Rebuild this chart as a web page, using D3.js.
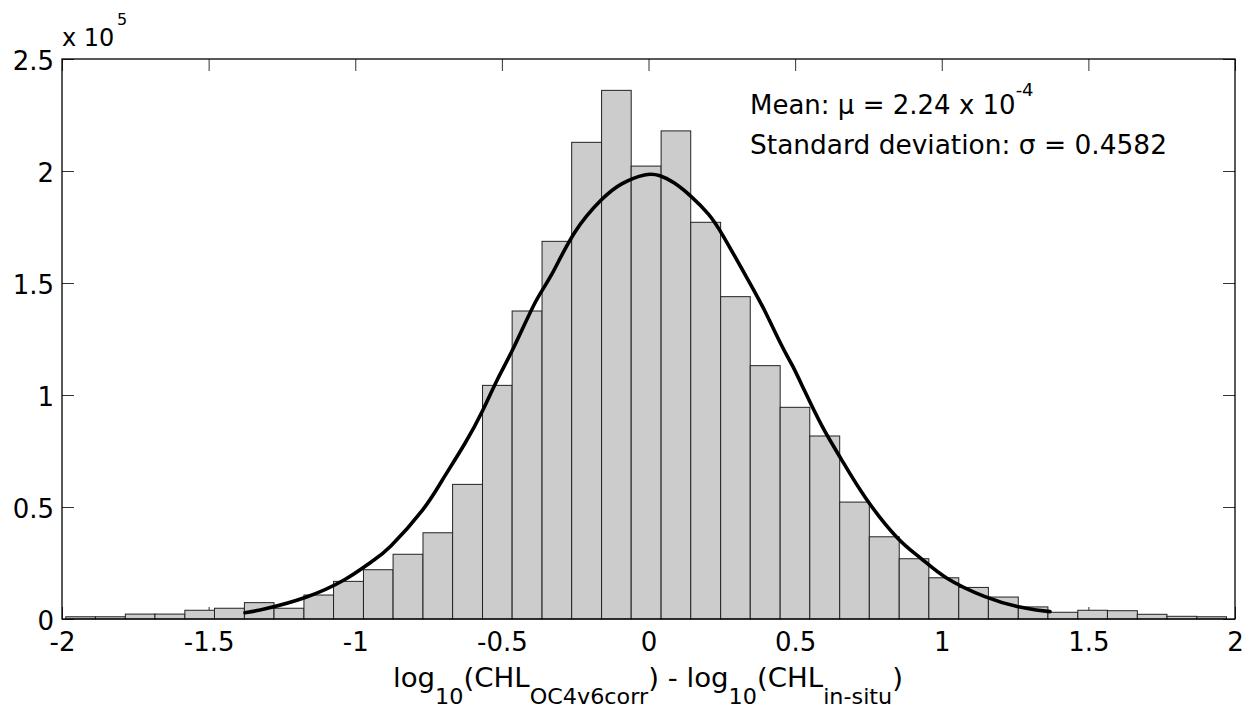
<!DOCTYPE html>
<html>
<head>
<meta charset="utf-8">
<script src="https://cdn.jsdelivr.net/npm/d3@7"></script>
<style>
  html, body { margin: 0; padding: 0; background: #fff; }
  svg { display: block; }
  text { font-family: "DejaVu Sans", "Liberation Sans", Arial, sans-serif; fill: #000; }
</style>
</head>
<body>
<svg id="chart" width="1256" height="709"></svg>
<script>
// ---- data ----
const binEdges = [-1.987, -1.886, -1.784, -1.683, -1.581, -1.480, -1.378, -1.277, -1.175, -1.074,
                  -0.972, -0.871, -0.769, -0.668, -0.566, -0.465, -0.363, -0.262, -0.160, -0.059,
                   0.043,  0.144,  0.246,  0.347,  0.449,  0.550,  0.652,  0.753,  0.855,  0.956,
                   1.058,  1.159,  1.261,  1.362,  1.464,  1.565,  1.667,  1.768,  1.870,  1.971];
const counts = [1000, 1000, 2200, 2200, 3900, 4800, 7300, 4800, 10700, 16800,
                22000, 28900, 38500, 60100, 104300, 137500, 168600, 212800, 236000, 202200,
                217900, 177100, 143900, 113100, 94500, 81700, 52200, 36700, 26900, 18400,
                14100, 9800, 5400, 3000, 3900, 3700, 2100, 1200, 1000];
const curveX = [-1.376, -1.319, -1.166, -1.029, -0.938, -0.893, -0.756, -0.711, -0.620, -0.563,
                -0.518, -0.461, -0.381, -0.336, -0.256, -0.154, -0.097, -0.006, 0.039, 0.085,
                 0.142, 0.210, 0.244, 0.346, 0.391, 0.460, 0.488, 0.528, 0.596, 0.653,
                 0.732, 0.858, 0.926, 1.005, 1.153, 1.267, 1.324, 1.369];
const curveY = [2800, 4000, 9200, 17400, 26300, 30000, 50100, 60600, 79200, 93300,
                106700, 120100, 143900, 151300, 173700, 188500, 194500, 199200, 198200, 195200,
                189300, 180400, 173700, 149900, 139400, 120100, 114200, 103000, 84400, 72500,
                54600, 33800, 27800, 18200, 9200, 5000, 4000, 3300];
const xTicks = [-2, -1.5, -1, -0.5, 0, 0.5, 1, 1.5, 2];
const xTickLabels = ["-2", "-1.5", "-1", "-0.5", "0", "0.5", "1", "1.5", "2"];
const yTicks = [0, 50000, 100000, 150000, 200000, 250000];
const yTickLabels = ["0", "0.5", "1", "1.5", "2", "2.5"];

// ---- layout ----
const L = 62, R = 1235, T = 59, B = 619;
const svg = d3.select("#chart");
svg.append("rect").attr("width", 1256).attr("height", 709).attr("fill", "#fff");

const x = d3.scaleLinear().domain([-2, 2]).range([L, R]);
const y = d3.scaleLinear().domain([0, 250000]).range([B, T]);
const FS = 26;

function styleAxis(g) {
  g.select(".domain").remove();
  g.selectAll(".tick line").attr("stroke", "#333").attr("stroke-width", 1);
  g.selectAll(".tick text").attr("font-size", FS);
}

// axes (ticks under the bars)
svg.append("g").attr("transform", `translate(0,${B})`)
  .call(d3.axisBottom(x).tickValues(xTicks).tickSizeInner(-12).tickSizeOuter(0).tickPadding(14)
        .tickFormat((d, i) => xTickLabels[i]))
  .call(styleAxis);
svg.append("g").attr("transform", `translate(0,${T})`)
  .call(d3.axisTop(x).tickValues(xTicks).tickSizeInner(-12).tickSizeOuter(0).tickFormat(""))
  .call(styleAxis);
svg.append("g").attr("transform", `translate(${L},0)`)
  .call(d3.axisLeft(y).tickValues(yTicks).tickSizeInner(-12).tickSizeOuter(0).tickPadding(8)
        .tickFormat((d, i) => yTickLabels[i]))
  .call(styleAxis)
  .selectAll(".tick text").attr("dy", "0.42em");
svg.append("g").attr("transform", `translate(${R},0)`)
  .call(d3.axisRight(y).tickValues(yTicks).tickSizeInner(-12).tickSizeOuter(0).tickFormat(""))
  .call(styleAxis);

// bars
svg.append("g").selectAll("rect").data(counts).join("rect")
  .attr("x", (d, i) => x(binEdges[i]))
  .attr("width", (d, i) => x(binEdges[i + 1]) - x(binEdges[i]))
  .attr("y", d => y(d))
  .attr("height", d => y(0) - y(d))
  .attr("fill", "#cccccc")
  .attr("stroke", "#222")
  .attr("stroke-width", 1);

// box
svg.append("rect").attr("x", L).attr("y", T).attr("width", R - L).attr("height", B - T)
  .attr("fill", "none").attr("stroke", "#000").attr("stroke-width", 1.3);

// fitted curve
const pts = curveX.map((v, i) => [v, curveY[i]]);
svg.append("path").datum(pts)
  .attr("d", d3.line().x(d => x(d[0])).y(d => y(d[1])).curve(d3.curveBasis))
  .attr("fill", "none").attr("stroke", "#000").attr("stroke-width", 3.6)
  .attr("stroke-linejoin", "round").attr("stroke-linecap", "round");

// exponent label
svg.append("text").attr("x", L).attr("y", 46).attr("font-size", 24).text("x 10");
svg.append("text").attr("x", 117).attr("y", 25).attr("font-size", 16).text("5");

// annotation
const a1 = svg.append("text").attr("x", 750).attr("y", 114).attr("font-size", FS);
a1.append("tspan").text("Mean: μ = 2.24 x 10");
a1.append("tspan").attr("dy", -18).attr("font-size", 18).text("-4");
svg.append("text").attr("x", 750).attr("y", 154).attr("font-size", FS)
  .attr("textLength", 417).attr("lengthAdjust", "spacingAndGlyphs")
  .text("Standard deviation: σ = 0.4582");

// x axis label
const xl = svg.append("text").attr("x", 393).attr("y", 687).attr("font-size", FS)
  .attr("textLength", 510).attr("lengthAdjust", "spacingAndGlyphs");
const SUB = 21, DROP = 17;
xl.append("tspan").text("log");
xl.append("tspan").attr("dy", DROP).attr("font-size", SUB).text("10");
xl.append("tspan").attr("dy", -DROP).text("(CHL");
xl.append("tspan").attr("dy", DROP).attr("font-size", SUB).text("OC4v6corr");
xl.append("tspan").attr("dy", -DROP).text(") - log");
xl.append("tspan").attr("dy", DROP).attr("font-size", SUB).text("10");
xl.append("tspan").attr("dy", -DROP).text("(CHL");
xl.append("tspan").attr("dy", DROP).attr("font-size", SUB).text("in-situ");
xl.append("tspan").attr("dy", -DROP).text(")");
</script>
</body>
</html>
